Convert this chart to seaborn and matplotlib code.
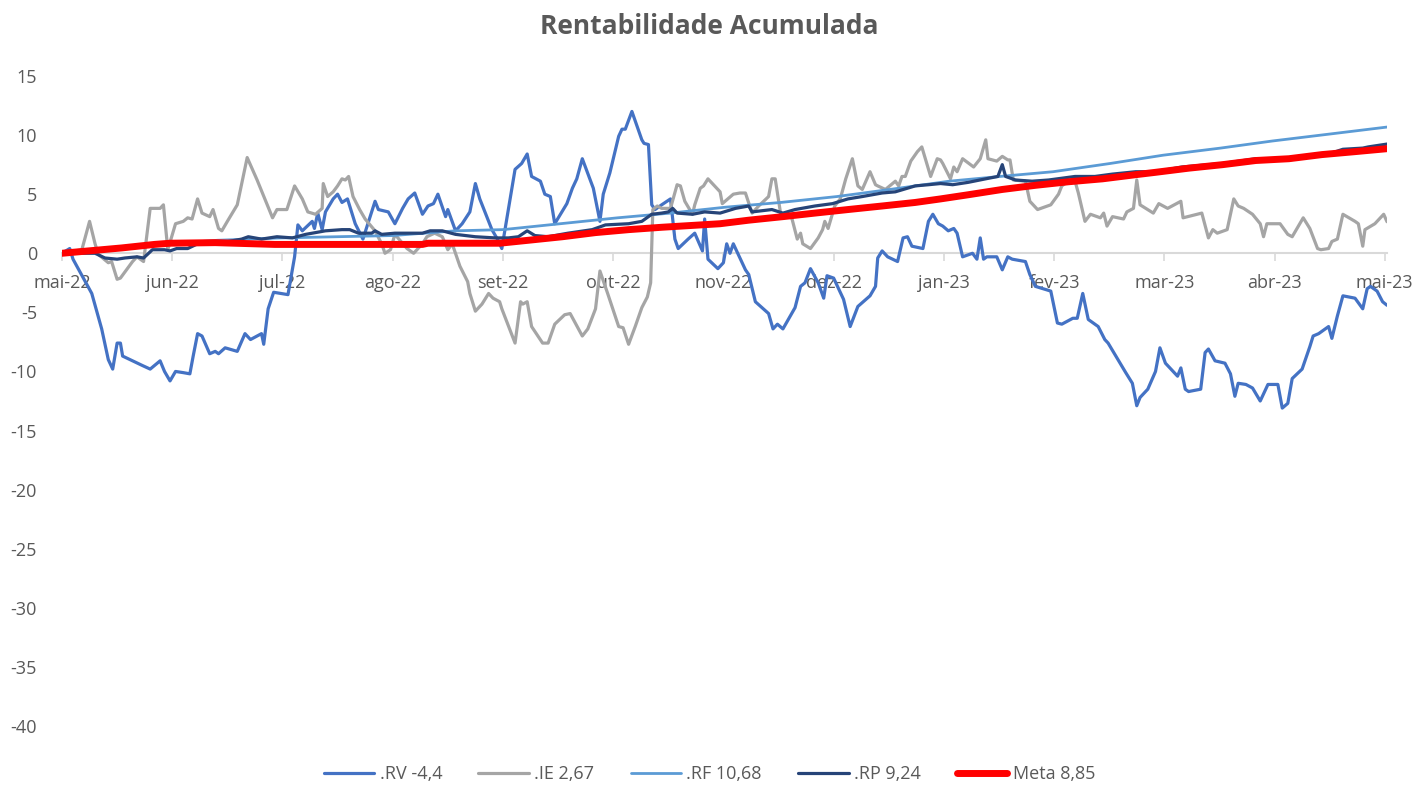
import numpy as np
import pandas as pd
import matplotlib
matplotlib.use("Agg")
import matplotlib.pyplot as plt
import seaborn as sns

# eixo x em meses desde mai-22 (posicao dos pregoes)
meses = ["mai-22", "jun-22", "jul-22", "ago-22", "set-22", "out-22", "nov-22",
         "dez-22", "jan-23", "fev-23", "mar-23", "abr-23", "mai-23"]

# .RV
rv_x = [0.00, 0.07, 0.10, 0.27, 0.36, 0.42, 0.46, 0.50, 0.53, 0.55, 0.64, 0.73, 0.80, 0.89, 0.93, 0.98,
        1.03, 1.10, 1.16, 1.19, 1.23, 1.27, 1.34, 1.39, 1.42, 1.48, 1.59, 1.66, 1.71, 1.81, 1.83, 1.87,
        1.92, 2.05, 2.11, 2.14, 2.18, 2.27, 2.29, 2.32, 2.36, 2.39, 2.46, 2.50, 2.54, 2.59, 2.66, 2.73,
        2.84, 2.87, 2.96, 3.02, 3.09, 3.14, 3.20, 3.27, 3.32, 3.37, 3.41, 3.48, 3.50, 3.57, 3.63, 3.70,
        3.75, 3.79, 3.90, 3.95, 3.99, 4.11, 4.17, 4.22, 4.26, 4.34, 4.38, 4.43, 4.47, 4.58, 4.63, 4.67,
        4.72, 4.82, 4.88, 4.91, 4.97, 5.05, 5.08, 5.11, 5.17, 5.26, 5.28, 5.32, 5.35, 5.38, 5.44, 5.52,
        5.56, 5.59, 5.68, 5.74, 5.81, 5.83, 5.86, 5.95, 6.00, 6.03, 6.06, 6.09, 6.20, 6.23, 6.29, 6.41,
        6.45, 6.49, 6.54, 6.65, 6.70, 6.74, 6.79, 6.86, 6.91, 6.94, 7.00, 7.09, 7.15, 7.22, 7.33, 7.38,
        7.40, 7.44, 7.49, 7.58, 7.63, 7.67, 7.71, 7.81, 7.86, 7.90, 7.95, 7.99, 8.04, 8.09, 8.12, 8.17,
        8.26, 8.30, 8.33, 8.36, 8.39, 8.48, 8.53, 8.58, 8.62, 8.74, 8.78, 8.83, 8.90, 8.97, 9.03, 9.07,
        9.17, 9.21, 9.26, 9.31, 9.40, 9.46, 9.49, 9.56, 9.65, 9.71, 9.75, 9.78, 9.85, 9.92, 9.96, 10.01,
        10.12, 10.15, 10.19, 10.22, 10.33, 10.37, 10.40, 10.46, 10.55, 10.60, 10.64, 10.67, 10.74, 10.80,
        10.87, 10.94, 11.03, 11.07, 11.12, 11.16, 11.25, 11.32, 11.35, 11.40, 11.49, 11.52, 11.57, 11.62,
        11.73, 11.80, 11.84, 11.87, 11.93, 11.98, 12.02]
rv_y = [0.0, 0.4, -0.5, -3.4, -6.4, -9.0, -9.8, -7.6, -7.6, -8.7, -9.1, -9.5, -9.8, -9.1, -10.0, -10.8,
        -10.0, -10.1, -10.2, -8.7, -6.8, -7.0, -8.5, -8.3, -8.5, -8.0, -8.3, -6.8, -7.3, -6.8, -7.7, -4.7,
        -3.3, -3.5, -0.3, 2.4, 1.9, 2.7, 2.1, 3.4, 2.0, 3.5, 4.6, 5.0, 4.3, 4.6, 2.5, 1.2,
        4.4, 3.7, 3.5, 2.5, 3.8, 4.6, 5.1, 3.3, 4.0, 4.2, 5.0, 3.1, 3.7, 1.9, 2.5, 3.5,
        5.9, 4.6, 2.0, 1.2, 0.4, 7.1, 7.6, 8.4, 6.5, 6.1, 5.0, 4.8, 2.5, 4.2, 5.5, 6.3,
        8.0, 5.5, 2.7, 5.0, 6.8, 9.9, 10.5, 10.5, 12.0, 9.6, 9.3, 9.2, 4.1, 3.7, 4.1, 4.6,
        1.2, 0.4, 1.2, 1.7, 0.2, 2.9, -0.5, -1.3, -0.8, 0.8, 0.0, 0.8, -1.4, -1.8, -4.1, -5.1,
        -6.4, -6.0, -6.4, -4.6, -2.8, -2.5, -1.3, -2.5, -3.8, -1.9, -2.1, -3.9, -6.2, -4.5, -3.6, -2.8,
        -0.4, 0.2, -0.3, -0.7, 1.3, 1.4, 0.6, 0.4, 2.7, 3.3, 2.5, 2.3, 1.9, 2.1, 1.7, -0.3,
        0.0, -0.5, 1.3, -0.5, -0.3, -0.3, -1.4, -0.3, -0.5, -0.7, -1.8, -2.8, -3.0, -3.2, -5.9, -6.0,
        -5.5, -5.5, -3.4, -5.6, -6.2, -7.3, -7.6, -8.7, -10.1, -11.0, -12.9, -12.2, -11.5, -10.0, -8.0, -9.3,
        -10.4, -9.7, -11.5, -11.7, -11.5, -8.4, -8.1, -9.1, -9.3, -10.2, -12.1, -11.0, -11.1, -11.4,
        -12.5, -11.1, -11.1, -13.1, -12.7, -10.6, -9.8, -7.9, -7.0, -6.8, -6.2, -7.2, -5.3, -3.6,
        -3.8, -4.7, -3.0, -2.8, -3.2, -4.1, -4.4]

# .IE
ie_x = [0.00, 0.18, 0.25, 0.30, 0.33, 0.42, 0.45, 0.50, 0.53, 0.64, 0.68, 0.74, 0.80, 0.89, 0.92, 0.96,
        1.03, 1.10, 1.14, 1.18, 1.23, 1.27, 1.34, 1.37, 1.42, 1.45, 1.50, 1.59, 1.68, 1.77, 1.84, 1.91,
        1.95, 2.04, 2.11, 2.18, 2.23, 2.30, 2.36, 2.37, 2.41, 2.46, 2.50, 2.54, 2.57, 2.60, 2.64, 2.70,
        2.75, 2.84, 2.90, 2.93, 2.98, 3.02, 3.13, 3.19, 3.27, 3.31, 3.38, 3.45, 3.50, 3.54, 3.61, 3.68,
        3.70, 3.75, 3.81, 3.87, 3.91, 3.97, 3.99, 4.06, 4.11, 4.16, 4.18, 4.22, 4.26, 4.36, 4.41, 4.47,
        4.56, 4.61, 4.72, 4.77, 4.84, 4.88, 4.95, 5.05, 5.09, 5.14, 5.20, 5.26, 5.31, 5.34, 5.36, 5.40,
        5.44, 5.52, 5.58, 5.61, 5.65, 5.72, 5.74, 5.79, 5.82, 5.86, 5.91, 5.97, 5.99, 6.09, 6.15, 6.20,
        6.26, 6.29, 6.32, 6.41, 6.44, 6.47, 6.52, 6.56, 6.62, 6.67, 6.70, 6.72, 6.79, 6.86, 6.90, 6.92,
        6.95, 7.01, 7.06, 7.11, 7.17, 7.22, 7.26, 7.33, 7.38, 7.40, 7.47, 7.56, 7.59, 7.62, 7.65, 7.70,
        7.76, 7.80, 7.88, 7.94, 7.97, 7.99, 8.06, 8.09, 8.12, 8.17, 8.27, 8.33, 8.38, 8.40, 8.48, 8.53,
        8.58, 8.60, 8.63, 8.74, 8.78, 8.85, 8.97, 9.04, 9.07, 9.13, 9.19, 9.22, 9.28, 9.33, 9.42, 9.45,
        9.48, 9.53, 9.63, 9.66, 9.72, 9.75, 9.78, 9.90, 9.95, 10.03, 10.15, 10.17, 10.34, 10.40, 10.44,
        10.48, 10.57, 10.63, 10.67, 10.72, 10.80, 10.87, 10.90, 10.93, 11.05, 11.12, 11.16, 11.26, 11.32,
        11.39, 11.42, 11.49, 11.52, 11.57, 11.62, 11.73, 11.76, 11.80, 11.82, 11.91, 11.99, 12.02]
ie_y = [0.0, 0.3, 2.7, 0.8, -0.1, -0.8, -0.7, -2.2, -2.1, -0.7, -0.3, -0.7, 3.8, 3.8, 4.1, 0.3,
        2.5, 2.7, 3.0, 2.9, 4.6, 3.4, 3.1, 3.7, 2.1, 1.9, 2.7, 4.1, 8.1, 6.2, 4.6, 3.0,
        3.7, 3.7, 5.7, 4.6, 3.5, 3.3, 3.8, 5.9, 4.8, 5.2, 5.7, 6.3, 6.2, 6.5, 4.8, 3.7,
        2.9, 1.9, 0.8, 0.0, 0.3, 1.6, 0.4, 0.0, 0.8, 1.4, 1.7, 1.4, 0.3, 0.8, -1.1, -2.4,
        -3.4, -4.9, -4.3, -3.4, -3.8, -4.1, -4.7, -6.4, -7.6, -4.1, -4.3, -4.1, -6.2, -7.6, -7.6, -6.0,
        -5.2, -5.1, -7.0, -6.4, -4.7, -1.5, -3.4, -6.2, -6.3, -7.7, -6.2, -4.6, -3.7, -2.5, 3.7, 4.0,
        3.8, 3.8, 5.8, 5.7, 4.4, 3.3, 4.1, 5.5, 5.7, 6.3, 5.8, 5.2, 4.2, 5.0, 5.1, 5.1,
        3.4, 3.7, 4.0, 4.8, 6.3, 6.3, 3.3, 3.1, 3.0, 1.2, 1.7, 0.8, 0.4, 1.3, 2.0, 2.7,
        2.1, 4.0, 4.6, 6.3, 8.0, 5.7, 5.4, 6.9, 5.8, 5.7, 5.4, 6.1, 5.7, 6.5, 6.5, 7.8,
        8.6, 9.0, 6.5, 8.0, 7.9, 7.6, 6.3, 7.3, 6.9, 8.0, 7.3, 8.0, 9.6, 8.0, 7.8, 8.2,
        7.9, 7.9, 6.2, 6.1, 4.4, 3.7, 4.1, 5.0, 5.7, 6.1, 6.1, 5.1, 2.7, 3.3, 3.0, 3.4,
        2.3, 3.1, 2.9, 3.5, 3.8, 6.2, 4.1, 3.4, 4.2, 3.8, 4.4, 3.0, 3.4, 1.3, 2.0,
        1.7, 2.0, 4.6, 4.0, 3.8, 3.3, 2.5, 1.4, 2.5, 2.5, 1.6, 1.4, 3.0, 2.1,
        0.4, 0.3, 0.4, 1.0, 1.2, 3.3, 2.7, 2.5, 0.6, 2.0, 2.5, 3.3, 2.67]

# .RF
rf_x = [0.00, 0.44, 0.98, 1.41, 1.99, 3.00, 3.57, 4.00, 4.52, 5.04, 5.52, 6.02, 6.52, 7.03, 7.51,
        8.05, 8.51, 8.99, 9.51, 9.99, 10.51, 10.98, 11.51, 12.02]
rf_y = [0.0, 0.4, 0.8, 1.1, 1.3, 1.5, 1.9, 2.0, 2.5, 3.0, 3.4, 3.9, 4.3, 4.8, 5.4,
        6.1, 6.5, 6.9, 7.6, 8.3, 8.9, 9.5, 10.1, 10.68]

# .RP
rp_x = [0.00, 0.30, 0.39, 0.50, 0.57, 0.68, 0.74, 0.82, 0.93, 0.98, 1.04, 1.14, 1.23, 1.39, 1.63, 1.69,
        1.81, 1.95, 2.09, 2.21, 2.39, 2.54, 2.61, 2.69, 2.81, 2.84, 2.90, 3.02, 3.27, 3.34, 3.45, 3.57,
        3.75, 3.93, 4.05, 4.14, 4.22, 4.29, 4.41, 4.59, 4.81, 4.93, 5.14, 5.26, 5.35, 5.44, 5.50, 5.54,
        5.58, 5.72, 5.83, 5.97, 6.11, 6.23, 6.26, 6.44, 6.54, 6.65, 6.83, 6.99, 7.13, 7.26, 7.44, 7.56,
        7.74, 7.86, 7.97, 8.08, 8.22, 8.38, 8.49, 8.53, 8.56, 8.65, 8.80, 8.95, 9.19, 9.37, 9.53, 9.74,
        9.92, 10.16, 10.53, 10.83, 11.13, 11.49, 11.62, 11.80, 11.85, 12.02]
rp_y = [0.0, 0.0, -0.4, -0.5, -0.4, -0.3, -0.4, 0.3, 0.3, 0.2, 0.4, 0.4, 0.8, 0.8, 1.2, 1.4,
        1.2, 1.4, 1.3, 1.6, 1.9, 2.0, 2.0, 1.7, 1.7, 1.9, 1.6, 1.7, 1.7, 1.9, 1.9, 1.6,
        1.4, 1.3, 1.3, 1.4, 1.9, 1.5, 1.4, 1.7, 2.0, 2.4, 2.5, 2.7, 3.3, 3.4, 3.5, 3.8,
        3.4, 3.3, 3.5, 3.4, 3.8, 4.0, 3.5, 3.7, 3.4, 3.7, 4.0, 4.2, 4.6, 4.8, 5.1, 5.2,
        5.7, 5.8, 5.9, 5.8, 6.0, 6.3, 6.5, 7.5, 6.5, 6.2, 6.1, 6.2, 6.5, 6.5, 6.7, 6.9,
        6.9, 7.3, 7.6, 8.0, 7.9, 8.4, 8.8, 8.9, 9.0, 9.24]

# Meta
meta_x = [0.00, 0.24, 0.54, 0.84, 0.98, 1.39, 1.93, 2.23, 3.27, 3.32, 3.97, 4.23, 4.54, 4.84, 5.14,
          5.44, 5.97, 6.23, 6.54, 6.83, 7.13, 7.44, 7.74, 7.97, 8.22, 8.53, 8.83, 9.13, 9.44, 9.74,
          9.92, 10.22, 10.53, 10.83, 11.13, 11.43, 11.73, 12.02]
meta_y = [0.0, 0.2, 0.45, 0.75, 0.85, 0.9, 0.75, 0.75, 0.75, 0.85, 0.85, 1.1, 1.4, 1.75, 2.0,
          2.2, 2.5, 2.8, 3.1, 3.4, 3.7, 4.0, 4.3, 4.6, 4.95, 5.4, 5.75, 6.05, 6.3, 6.65,
          6.85, 7.2, 7.5, 7.85, 8.0, 8.35, 8.6, 8.85]

series = [
    (".RV -4,4", rv_x, rv_y, "#4472C4", 2.3),
    (".IE 2,67", ie_x, ie_y, "#A5A5A5", 2.3),
    (".RF 10,68", rf_x, rf_y, "#5B9BD5", 2.0),
    (".RP 9,24", rp_x, rp_y, "#264478", 2.3),
    ("Meta 8,85", meta_x, meta_y, "#FF0000", 5.0),
]

sns.set_theme(style="white")
plt.rcParams["font.family"] = ["Open Sans", "DejaVu Sans"]
plt.rcParams["axes.unicode_minus"] = False
cinza = "#595959"

fig = plt.figure(figsize=(14.19, 7.85), dpi=100)
ax = fig.add_axes([62 / 1419, 1 - 726 / 785, (1387 - 62) / 1419, (726 - 76) / 785])

for nome, xs, ys, cor, lw in series:
    df = pd.DataFrame({"x": xs, "y": ys})
    sns.lineplot(data=df, x="x", y="y", ax=ax, color=cor, linewidth=lw,
                 label=nome, estimator=None, sort=False, solid_capstyle="round")

ax.set_xlim(0, 12.02)
ax.set_ylim(-40, 15)
ax.set_yticks(np.arange(-40, 16, 5))
ax.set_xticks(np.arange(len(meses)))
ax.set_xticklabels(meses)
ax.set_xlabel("")
ax.set_ylabel("")

for s in ["top", "right", "left"]:
    ax.spines[s].set_visible(False)
ax.spines["bottom"].set_position(("data", 0))
ax.spines["bottom"].set_color("#D9D9D9")
ax.spines["bottom"].set_linewidth(1.5)
ax.spines["bottom"].set_zorder(1)
ax.tick_params(axis="x", direction="out", length=6, width=1.2, color="#D9D9D9",
               labelsize=13, labelcolor=cinza, pad=9, bottom=True)
ax.tick_params(axis="y", length=0, labelsize=13, labelcolor=cinza, pad=18)
ax.grid(False)

fig.text(0.5, 1 - 27 / 785, "Rentabilidade Acumulada", ha="center", va="center",
         fontsize=19, fontweight="bold", color=cinza)

ax.get_legend().remove()
h, l = ax.get_legend_handles_labels()
leg = fig.legend(h, l, loc="lower center", bbox_to_anchor=(0.5, -0.018), ncol=5, frameon=False,
                 fontsize=13, handlelength=2.8, columnspacing=2.0, handletextpad=0.3)
for t in leg.get_texts():
    t.set_color(cinza)

fig.savefig("out.png", dpi=100)
